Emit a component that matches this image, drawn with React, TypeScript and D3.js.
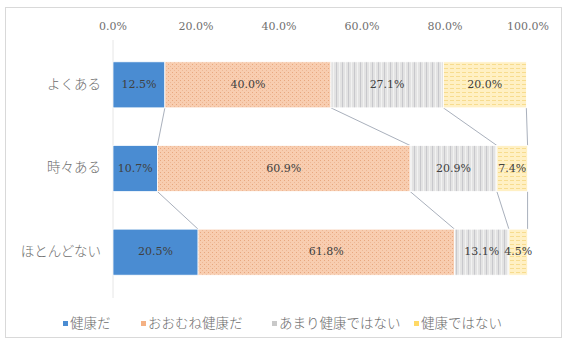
import React from "react";
import * as d3 from "d3";

const categories = ["よくある", "時々ある", "ほとんどない"];
const seriesNames = ["健康だ", "おおむね健康だ", "あまり健康ではない", "健康ではない"];
const healthy = [12.5, 10.7, 20.5];
const mostlyHealthy = [40.0, 60.9, 61.8];
const notVery = [27.1, 20.9, 13.1];
const notHealthy = [20.0, 7.4, 4.5];
const tickValues = [0, 0.2, 0.4, 0.6, 0.8, 1.0];

const W = 564;
const H = 343;
const fills = ["#4A8CD2", "url(#patOrange)", "url(#patGray)", "url(#patYellow)"];
const legendSwatch = ["#4A8CD2", "#F4B183", "#C9C9C9", "#FFD966"];
const legendX = [63, 141, 272, 414];

const serif = "'DejaVu Serif', serif";
const jp = "'Noto Sans CJK JP', sans-serif";

export default function App() {
  const seriesValues = [healthy, mostlyHealthy, notVery, notHealthy];
  const x = d3.scaleLinear().domain([0, 1]).range([113, 528]);
  const y = d3.scaleBand<string>().domain(categories).range([43, 294]).paddingInner(0.45).paddingOuter(0.225);
  const bh = y.bandwidth();

  const cum = categories.map((_, ci) => {
    const arr = [0];
    let s = 0;
    seriesValues.forEach((sv) => {
      s += sv[ci] / 100;
      arr.push(s);
    });
    return arr;
  });

  const fmt = (v: number) => v.toFixed(1) + "%";

  return (
    <svg width={W} height={H} style={{ position: "absolute", left: 0, top: 0, background: "#fff" }}>
      <defs>
        <pattern id="patOrange" width="4" height="4" patternUnits="userSpaceOnUse">
          <rect width="4" height="4" fill="#F8CDB0" />
          <rect x="0" y="0" width="1" height="1" fill="#E8A77E" />
          <rect x="2" y="2" width="1" height="1" fill="#EDB794" />
        </pattern>
        <pattern id="patGray" width="6" height="6" patternUnits="userSpaceOnUse">
          <rect width="6" height="6" fill="#E3E3E3" />
          <rect x="0" y="0" width="1" height="6" fill="#C8C8CC" />
          <rect x="3" y="0" width="1" height="6" fill="#F2F2F2" />
        </pattern>
        <pattern id="patYellow" width="6" height="4" patternUnits="userSpaceOnUse">
          <rect width="6" height="4" fill="#FFF0C4" />
          <rect x="0" y="0" width="4" height="1" fill="#F7DC8E" />
        </pattern>
      </defs>
      <rect x={5.5} y={7.5} width={556} height={330} fill="#fff" stroke="#D9D9D9" />

      {tickValues.map((t) => (
        <text
          key={t}
          x={x(t)}
          y={27}
          textAnchor="middle"
          dominantBaseline="middle"
          fontFamily={serif}
          fontSize={11}
          fill="#707070"
        >
          {(t * 100).toFixed(1) + "%"}
        </text>
      ))}

      <line x1={x(0)} x2={x(0)} y1={40} y2={298} stroke="#E6E6E6" strokeWidth={1} />

      {categories.slice(0, -1).map((c, ci) =>
        cum[ci].slice(1).map((b, k) => (
          <line
            key={c + "-sl-" + k}
            x1={x(b)}
            y1={(y(c) as number) + bh}
            x2={x(cum[ci + 1][k + 1])}
            y2={y(categories[ci + 1]) as number}
            stroke="#A9B0BC"
            strokeWidth={1}
          />
        ))
      )}

      {categories.map((c, ci) =>
        seriesValues.map((sv, si) => (
          <rect
            key={c + "-" + si}
            x={x(cum[ci][si])}
            y={y(c) as number}
            width={x(cum[ci][si + 1]) - x(cum[ci][si])}
            height={bh}
            fill={fills[si]}
            stroke="#fff"
            strokeWidth={0.75}
          />
        ))
      )}

      {categories.map((c, ci) =>
        seriesValues.map((sv, si) => (
          <text
            key={c + "-l-" + si}
            x={(x(cum[ci][si]) + x(cum[ci][si + 1])) / 2}
            y={(y(c) as number) + bh / 2}
            textAnchor="middle"
            dominantBaseline="middle"
            fontFamily={serif}
            fontSize={11}
            fill="#404040"
          >
            {fmt(sv[ci])}
          </text>
        ))
      )}

      {categories.map((c) => (
        <text
          key={c}
          x={101}
          y={(y(c) as number) + bh / 2}
          textAnchor="end"
          dominantBaseline="middle"
          fontFamily={jp}
          fontSize={13.5}
          fontWeight={300}
          fill="#6E6E6E"
        >
          {c}
        </text>
      ))}

      {seriesNames.map((n, i) => (
        <g key={n}>
          <rect x={legendX[i]} y={321} width={5} height={5} fill={legendSwatch[i]} />
          <text
            x={legendX[i] + 7}
            y={324}
            dominantBaseline="middle"
            fontFamily={jp}
            fontSize={13.5}
            fontWeight={300}
            fill="#6E6E6E"
          >
            {n}
          </text>
        </g>
      ))}
    </svg>
  );
}
